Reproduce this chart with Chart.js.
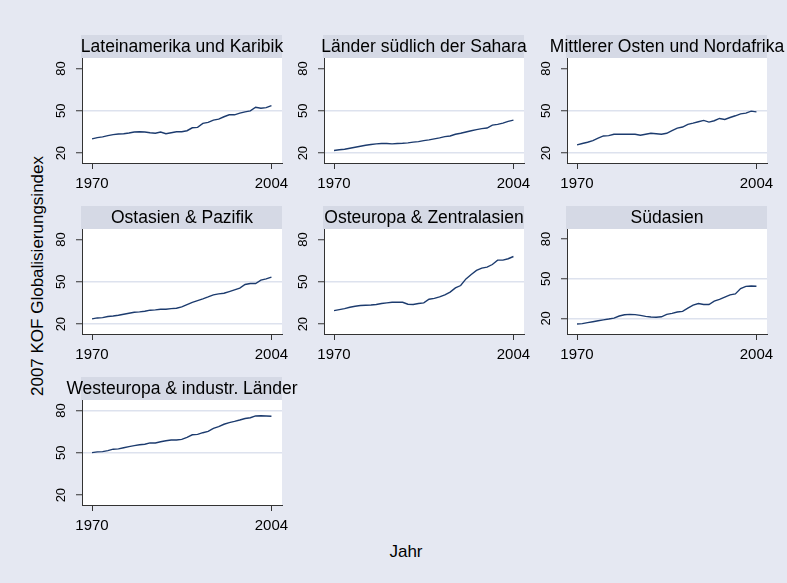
<!DOCTYPE html>
<html>
<head>
<meta charset="utf-8">
<script src="https://cdn.jsdelivr.net/npm/chart.js@4.4.0/dist/chart.umd.min.js"></script>
<style>
  html, body { margin: 0; padding: 0; }
  body {
    width: 787px; height: 583px; position: relative; overflow: hidden;
    background: #e5e8f2;
    font-family: "Liberation Sans", Arial, sans-serif;
  }
  canvas.panel { position: absolute; }
  #ytitle {
    position: absolute; left: 38px; top: 276px; white-space: nowrap;
    transform: translate(-50%, -50%) rotate(-90deg);
    font-size: 17px; color: #000;
  }
  #xtitle {
    position: absolute; left: 406px; top: 552px; white-space: nowrap;
    transform: translate(-50%, -50%);
    font-size: 17px; color: #000;
  }
</style>
</head>
<body>
<div id="ytitle">2007 KOF Globalisierungsindex</div>
<div id="xtitle">Jahr</div>
<script>
const years = [1970, 1971, 1972, 1973, 1974, 1975, 1976, 1977, 1978, 1979,
               1980, 1981, 1982, 1983, 1984, 1985, 1986, 1987, 1988, 1989,
               1990, 1991, 1992, 1993, 1994, 1995, 1996, 1997, 1998, 1999,
               2000, 2001, 2002, 2003, 2004];

const regions = ["Lateinamerika und Karibik", "Länder südlich der Sahara",
                 "Mittlerer Osten und Nordafrika", "Ostasien & Pazifik",
                 "Osteuropa & Zentralasien", "Südasien",
                 "Westeuropa & industr. Länder"];

const latAm = [30.1, 31.0, 31.5, 32.4, 33.1, 33.6, 33.8, 34.3, 35.0, 35.2, 35.0, 34.5, 34.1, 35.0, 33.8, 34.5, 35.2, 35.2,
               35.9, 38.0, 38.3, 41.1, 41.8, 43.4, 44.1, 45.8, 47.2, 47.2, 48.4, 49.3, 50.0, 52.6, 51.9, 52.3, 53.7];
const subSahara = [21.9, 22.4, 22.8, 23.5, 24.2, 24.9, 25.6, 26.1, 26.6, 26.8, 26.8, 26.6, 26.8, 27.0, 27.3, 27.8, 28.2, 28.9,
                   29.4, 30.1, 30.8, 31.7, 32.2, 33.4, 34.1, 35.0, 35.9, 36.7, 37.4, 37.8, 39.9, 40.4, 41.3, 42.5, 43.4];
const mena = [25.9, 26.8, 27.7, 28.9, 30.6, 32.2, 32.4, 33.4, 33.4, 33.4, 33.4, 33.4, 32.7, 33.4, 34.1, 33.8, 33.4, 34.1,
              35.9, 37.8, 38.5, 40.4, 41.3, 42.3, 43.2, 42.0, 43.0, 44.6, 43.9, 45.3, 46.5, 47.9, 48.4, 49.8, 49.3];
const eastAsia = [23.7, 24.4, 24.6, 25.4, 25.8, 26.3, 27.0, 27.7, 28.4, 28.7, 29.1, 29.9, 30.1, 30.6, 30.6, 31.0, 31.3, 32.2,
                  33.9, 35.5, 36.7, 37.9, 39.3, 40.8, 41.5, 41.9, 43.1, 44.3, 45.5, 48.1, 48.8, 48.8, 51.2, 52.1, 53.3];
const eastEurope = [29.6, 30.3, 31.0, 32.0, 32.7, 33.2, 33.4, 33.6, 33.9, 34.6, 35.1, 35.5, 35.5, 35.5, 34.1, 33.9, 34.6, 35.1,
                    37.7, 38.3, 39.3, 40.8, 42.7, 45.7, 47.4, 52.1, 55.2, 58.1, 59.7, 60.4, 62.3, 65.4, 65.4, 66.4, 68.0];
const southAsia = [15.8, 16.0, 16.8, 17.5, 18.2, 18.9, 19.5, 20.2, 21.8, 22.7, 23.0, 22.8, 22.3, 21.5, 21.0, 20.8, 21.2, 23.0,
                   23.8, 24.8, 25.3, 27.8, 30.0, 31.2, 30.5, 30.5, 33.0, 34.3, 36.0, 37.8, 38.5, 42.5, 44.2, 44.5, 44.3];
const westEurope = [50.2, 50.7, 50.9, 51.6, 52.6, 52.8, 53.6, 54.4, 55.1, 55.7, 56.1, 57.1, 57.0, 57.9, 58.6, 59.1, 59.1, 59.6,
                    61.0, 62.8, 63.1, 64.3, 65.2, 67.4, 68.6, 70.3, 71.4, 72.3, 73.3, 74.4, 74.9, 76.2, 76.3, 76.2, 76.0];

const yTicks = [20, 50, 80];
const xTicks = [1970, 2004];

const series = [latAm, subSahara, mena, eastAsia, eastEurope, southAsia, westEurope];

// gridlines that show in each panel of the original
const gridShown = [[50], [20, 50], [20, 50], [20, 50], [50], [20, 50], [50, 80]];

const colLeft = [48, 290, 533];
const rowTop = [30, 201, 372];
const fontFamily = '"Liberation Sans", Arial, sans-serif';

// white plot area plus the grey header strip with the region name
const panelBg = {
    id: "panelBg",
    beforeDraw(chart, args, opts) {
        const { ctx, chartArea: a } = chart;
        ctx.save();
        ctx.fillStyle = "#ffffff";
        ctx.fillRect(a.left, a.top, a.right - a.left, a.bottom - a.top);
        ctx.fillStyle = "#d5d9e5";
        ctx.fillRect(a.left - 1, a.top - 23, a.right - a.left + 1, 23);
        ctx.fillStyle = "#000";
        ctx.font = "17.5px " + fontFamily;
        ctx.textAlign = "center";
        ctx.textBaseline = "middle";
        ctx.fillText(opts.text, (a.left + a.right) / 2, a.top - 11);
        ctx.restore();
    },
};

series.forEach(function (vals, i) {
    const canvas = document.createElement("canvas");
    canvas.className = "panel";
    canvas.width = 268;
    canvas.height = 165;
    canvas.style.left = colLeft[i % 3] + "px";
    canvas.style.top = rowTop[Math.floor(i / 3)] + "px";
    document.body.appendChild(canvas);

    const shown = gridShown[i];

    new Chart(canvas, {
        type: "line",
        data: {
            datasets: [{
                data: years.map((yr, k) => ({ x: yr, y: vals[k] })),
                borderColor: "#1c3b6e",
                borderWidth: 1.4,
                pointRadius: 0,
                tension: 0,
                fill: false,
            }],
        },
        options: {
            responsive: false,
            animation: false,
            layout: { padding: { top: 28, right: 34, bottom: 0, left: 0 } },
            plugins: {
                legend: { display: false },
                tooltip: { enabled: false },
                panelBg: { text: regions[i] },
            },
            scales: {
                x: {
                    type: "linear",
                    min: 1968.1,
                    max: 2006,
                    afterBuildTicks: (s) => { s.ticks = xTicks.map((v) => ({ value: v })); },
                    afterFit: (s) => { s.height = 32; },
                    grid: { drawOnChartArea: false, tickLength: 6, tickColor: "#333", tickWidth: 1 },
                    border: { color: "#333", width: 1 },
                    ticks: {
                        color: "#000",
                        font: { family: fontFamily, size: 15 },
                        padding: 6,
                        maxRotation: 0,
                        autoSkip: false,
                        callback: (v) => String(v),
                    },
                },
                y: {
                    min: i === 5 ? 8.2 : 13,
                    max: 87.5,
                    afterBuildTicks: (s) => { s.ticks = yTicks.map((v) => ({ value: v })); },
                    afterFit: (s) => { s.width = 34; },
                    grid: {
                        color: (c) => (c.tick && shown.includes(c.tick.value) ? "#dde2ee" : "rgba(0,0,0,0)"),
                        lineWidth: 1.5,
                        tickLength: 6,
                        tickColor: "#333",
                        tickWidth: 1,
                    },
                    border: { color: "#333", width: 1 },
                    ticks: {
                        color: "#000",
                        font: { family: fontFamily, size: 13 },
                        minRotation: 90,
                        maxRotation: 90,
                        crossAlign: "center",
                        padding: 7,
                        autoSkip: false,
                    },
                },
            },
        },
        plugins: [panelBg],
    });
});
</script>
</body>
</html>
